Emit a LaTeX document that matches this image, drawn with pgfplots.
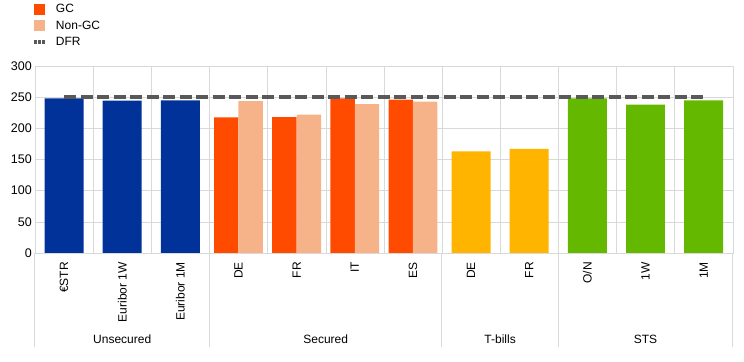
\documentclass[border=0pt]{standalone}
\usepackage{pgfplots}
\pgfplotsset{compat=1.18}
\usepackage{fontspec}
\setmainfont{Liberation Sans}
\definecolor{ecbblue}{HTML}{003299}
\definecolor{gcorange}{HTML}{FF4B00}
\definecolor{ngcorange}{HTML}{F6B38A}
\definecolor{tyellow}{HTML}{FFB400}
\definecolor{sgreen}{HTML}{65B800}
\definecolor{dfrgray}{HTML}{595959}
\definecolor{gridgray}{HTML}{D9D9D9}
\pgfplotsset{
  sqlegend/.style={legend image code/.code={\fill[##1] (0pt,-5.5pt) rectangle (11pt,5.5pt);}},
}
\begin{document}
\begin{tikzpicture}[x=1pt,y=1pt]
\begin{axis}[
  name=ax,
  scale only axis,
  width=697.7pt, height=187pt,
  xmin=-0.5, xmax=11.5, ymin=0, ymax=300,
  clip=false,
  axis line style={draw=gridgray},
  font=\fontsize{12}{14}\selectfont,
  /pgf/number format/assume math mode=true,
  ytick={0,50,...,300},
  ymajorgrids, major grid style={draw=gridgray},
  yticklabel style={inner sep=0pt, font=\fontsize{12.5}{14}\selectfont}, yticklabel shift=3pt,
  xtick={0,...,11},
  xticklabels={€STR, Euribor 1W, Euribor 1M, DE, FR, IT, ES, DE, FR, O/N, 1W, 1M},
  xticklabel style={rotate=90, anchor=east, inner sep=0pt}, xticklabel shift=9pt,
  minor xtick={0.5,1.5,...,10.5},
  xminorgrids, minor grid style={draw=gridgray},
  major tick length=0pt, minor tick length=0pt,
  xtick pos=bottom, ytick pos=left,
  extra x ticks={-0.5,2.5,6.5,8.5,11.5},
  extra x tick labels={},
  extra x tick style={tick align=outside, major tick length=94pt, tick style={draw=gridgray, line width=1pt}},
  legend style={at={(axis description cs:0,1)}, anchor=north west, xshift=-3pt, yshift=62pt,
    draw=none, fill=none, inner sep=0pt, outer sep=0pt, row sep=5.5pt, column sep=9pt,
    font=\fontsize{12}{14}\selectfont,
    nodes={inner sep=0pt, anchor=west}},
  legend cell align=left,
]
% Unsecured
\addplot[ybar, bar width=0.67, bar shift=0, fill=ecbblue, draw=none, forget plot]
  coordinates {(0,248) (1,244.5) (2,245)};
% Secured GC
\addplot[ybar, bar width=0.42, bar shift=-0.21, fill=gcorange, draw=none, sqlegend]
  coordinates {(3,217.5) (4,218) (5,248) (6,246)};
% Secured Non-GC
\addplot[ybar, bar width=0.42, bar shift=0.21, fill=ngcorange, draw=none, sqlegend]
  coordinates {(3,243.5) (4,222) (5,239) (6,243)};
% T-bills
\addplot[ybar, bar width=0.67, bar shift=0, fill=tyellow, draw=none, forget plot]
  coordinates {(7,163) (8,167)};
% STS
\addplot[ybar, bar width=0.67, bar shift=0, fill=sgreen, draw=none, forget plot]
  coordinates {(9,248) (10,238) (11,245)};
% DFR
\addplot[dfrgray, line width=4pt, dash pattern=on 12pt off 4.5pt,
  legend image code/.code={\draw[dfrgray, line width=4pt, dash pattern=on 2.5pt off 1.7pt] (0pt,0pt) -- (11pt,0pt);}]
  coordinates {(0,250) (11,250)};
\legend{GC, Non-GC, DFR}
\node[font=\fontsize{12}{14}\selectfont] at ([yshift=-86pt]axis cs:1,0) {Unsecured};
\node[font=\fontsize{12}{14}\selectfont] at ([yshift=-86pt]axis cs:4.5,0) {Secured};
\node[font=\fontsize{12}{14}\selectfont] at ([yshift=-86pt]axis cs:7.5,0) {T-bills};
\node[font=\fontsize{12}{14}\selectfont] at ([yshift=-86pt]axis cs:10,0) {STS};
\end{axis}
\pgfresetboundingbox
\path[use as bounding box] ([shift={(-35pt,-109pt)}]ax.south west) rectangle ([shift={(11.3pt,66pt)}]ax.north east);
\end{tikzpicture}
\end{document}
